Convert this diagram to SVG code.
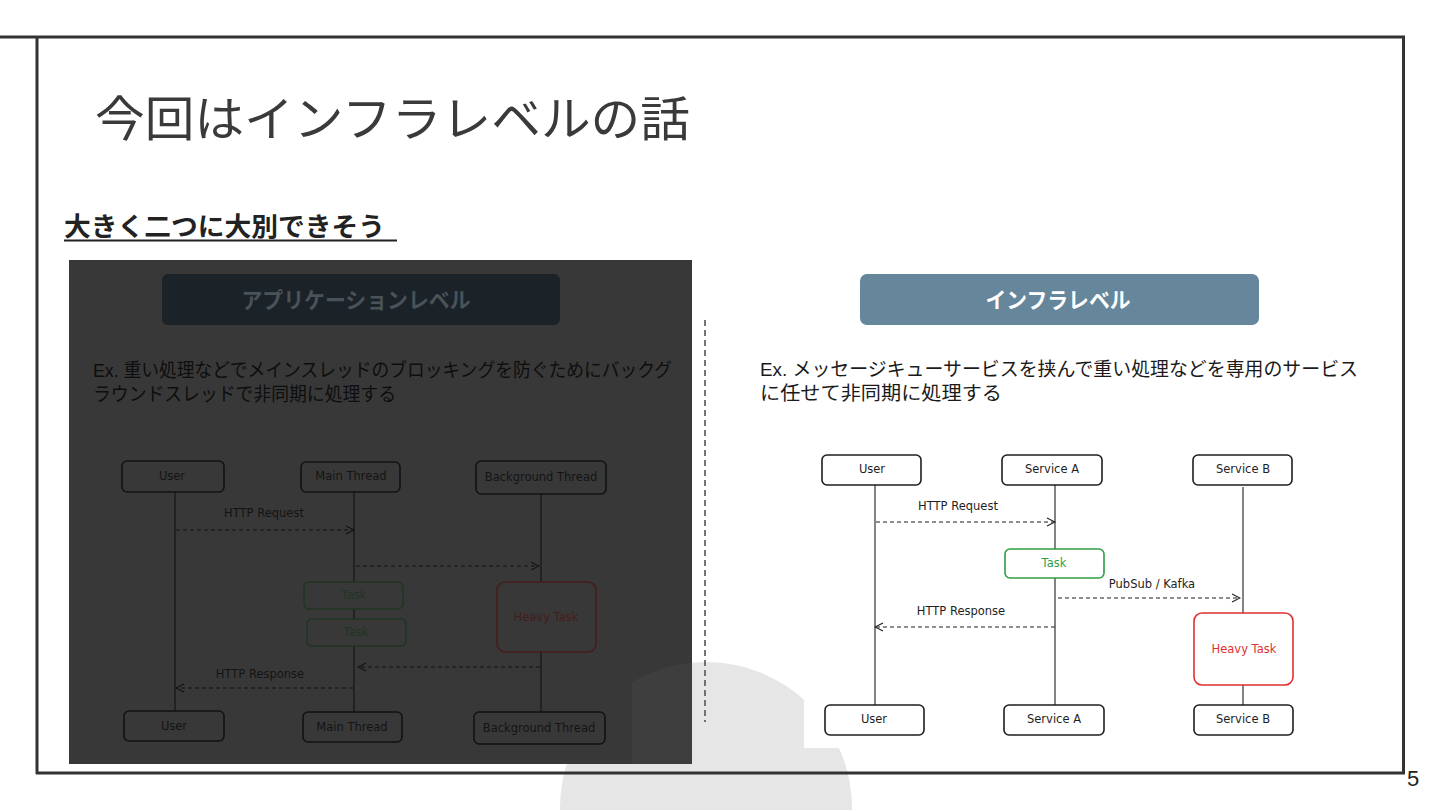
<svg xmlns="http://www.w3.org/2000/svg" width="1440" height="810" viewBox="0 0 1440 810">
<defs>
<style>
.jp{font-family:"Liberation Sans","Noto Sans CJK JP",sans-serif;}
.hand{font-family:"DejaVu Sans","Liberation Sans",sans-serif;font-size:11.5px;text-anchor:middle;}
.rbox{fill:#ffffff;stroke:#1e1e1e;stroke-width:1.6;}
.rline{stroke:#1e1e1e;stroke-width:1.1;fill:none;}
.rdash{stroke:#1e1e1e;stroke-width:1.1;fill:none;stroke-dasharray:4 3;}
.rtxt{fill:#1e1e1e;}
.dbox{fill:none;stroke:#121212;stroke-width:1.6;}
.dline{stroke:#121212;stroke-width:1.1;fill:none;}
.ddash{stroke:#121212;stroke-width:1.1;fill:none;stroke-dasharray:4 3;}
.dtxt{fill:#141414;}
</style>
<marker id="arrR" markerWidth="10" markerHeight="10" refX="9" refY="5" orient="auto" markerUnits="userSpaceOnUse">
<path d="M1,1 L9,5 L1,9" fill="none" stroke="#1e1e1e" stroke-width="1.1"/>
</marker>
<marker id="arrD" markerWidth="10" markerHeight="10" refX="9" refY="5" orient="auto" markerUnits="userSpaceOnUse">
<path d="M1,1 L9,5 L1,9" fill="none" stroke="#121212" stroke-width="1.1"/>
</marker>
<clipPath id="panelClip"><rect x="632" y="600" width="60" height="164"/></clipPath>
</defs>

<rect x="0" y="0" width="1440" height="810" fill="#ffffff"/>

<!-- background circle -->
<circle cx="706" cy="808" r="146" fill="#e6e6e6"/>

<!-- frame -->
<g id="frame" fill="none" stroke="#333333" stroke-width="3">
<line x1="0" y1="37" x2="1405" y2="37"/>
<line x1="37" y1="37" x2="37" y2="774"/>
<line x1="1403.5" y1="37" x2="1403.5" y2="774"/>
<line x1="36" y1="773" x2="1405" y2="773"/>
</g>

<g id="title">
<text class="jp" x="95" y="136" font-size="48" fill="#3a3a3a" textLength="595" lengthAdjust="spacingAndGlyphs">今回はインフラレベルの話</text>
</g>

<g id="subtitle">
<text class="jp" x="64" y="236" font-size="26" font-weight="bold" fill="#222222" textLength="321" lengthAdjust="spacingAndGlyphs">大きく二つに大別できそう</text>
<line x1="64" y1="240.5" x2="397" y2="240.5" stroke="#222222" stroke-width="2"/>
</g>

<!-- Left dimmed panel -->
<g id="app-panel">
<rect x="69" y="260" width="623" height="504" fill="#383838"/>
<circle cx="706" cy="808" r="146" fill="#3e3e3e" clip-path="url(#panelClip)"/>
<g id="app-header">
<rect x="162" y="274" width="398" height="51" rx="6" fill="#1b2228"/>
<text class="jp" x="356" y="308" font-size="22" font-weight="bold" fill="#4a525a" text-anchor="middle" textLength="229" lengthAdjust="spacingAndGlyphs">アプリケーションレベル</text>
</g>
<g id="app-desc" class="jp" font-size="19" fill="#0e0e0e">
<text x="93" y="377" textLength="579" lengthAdjust="spacingAndGlyphs">Ex. 重い処理などでメインスレッドのブロッキングを防ぐためにバックグ</text>
<text x="93" y="401" textLength="303" lengthAdjust="spacingAndGlyphs">ラウンドスレッドで非同期に処理する</text>
</g>

<g id="app-connectors">
<line class="dline" x1="175" y1="492" x2="175" y2="711"/>
<line class="dline" x1="354" y1="492" x2="354" y2="582"/>
<line class="dline" x1="354" y1="609" x2="354" y2="619"/>
<line class="dline" x1="354" y1="646" x2="354" y2="712"/>
<line class="dline" x1="541" y1="494" x2="541" y2="582"/>
<line class="dline" x1="541" y1="652" x2="541" y2="712"/>
<line class="ddash" x1="176" y1="530" x2="354" y2="530" marker-end="url(#arrD)"/>
<line class="ddash" x1="356" y1="566" x2="539" y2="566" marker-end="url(#arrD)"/>
<line class="ddash" x1="540" y1="667" x2="358" y2="667" marker-end="url(#arrD)"/>
<line class="ddash" x1="353" y1="688" x2="176" y2="688" marker-end="url(#arrD)"/>
<text class="hand dtxt" x="264" y="517">HTTP Request</text>
<text class="hand dtxt" x="260" y="678">HTTP Response</text>
</g>

<g id="app-user-top"><rect class="dbox" x="122" y="461" width="102" height="31" rx="5"/><text class="hand dtxt" x="172" y="480">User</text></g>
<g id="app-main-top"><rect class="dbox" x="301" y="462" width="99" height="30" rx="5"/><text class="hand dtxt" x="351" y="480">Main Thread</text></g>
<g id="app-bg-top"><rect class="dbox" x="476" y="461" width="130" height="33" rx="5"/><text class="hand dtxt" x="541" y="481">Background Thread</text></g>
<g id="app-task1"><rect x="304" y="582" width="99" height="27" rx="5" fill="#383838" stroke="#1f3623" stroke-width="1.6"/><text class="hand" x="354" y="599" fill="#1f3623">Task</text></g>
<g id="app-task2"><rect x="307" y="619" width="99" height="27" rx="5" fill="#383838" stroke="#1f3623" stroke-width="1.6"/><text class="hand" x="356" y="636" fill="#1f3623">Task</text></g>
<g id="app-heavy"><rect x="497" y="582" width="99" height="70" rx="8" fill="#383838" stroke="#461c1c" stroke-width="1.6"/><text class="hand" x="546" y="621" fill="#461c1c">Heavy Task</text></g>
<g id="app-user-bot"><rect class="dbox" x="124" y="711" width="100" height="30" rx="5"/><text class="hand dtxt" x="174" y="730">User</text></g>
<g id="app-main-bot"><rect class="dbox" x="303" y="712" width="99" height="30" rx="5"/><text class="hand dtxt" x="352" y="731">Main Thread</text></g>
<g id="app-bg-bot"><rect class="dbox" x="474" y="712" width="131" height="32" rx="5"/><text class="hand dtxt" x="539" y="732">Background Thread</text></g>
</g>

<!-- divider -->
<line id="divider" x1="705" y1="320" x2="705" y2="722" stroke="#555555" stroke-width="1.6" stroke-dasharray="6 4"/>

<!-- Right panel -->
<g id="infra-header">
<rect x="860" y="274" width="399" height="51" rx="7" fill="#66869c"/>
<text class="jp" x="1058" y="308" font-size="22" font-weight="bold" fill="#ffffff" text-anchor="middle" textLength="145" lengthAdjust="spacingAndGlyphs">インフラレベル</text>
</g>
<g id="infra-desc" class="jp" font-size="19" fill="#1a1a1a">
<text x="760" y="376" textLength="598" lengthAdjust="spacingAndGlyphs">Ex. メッセージキューサービスを挟んで重い処理などを専用のサービス</text>
<text x="760" y="400" textLength="242" lengthAdjust="spacingAndGlyphs">に任せて非同期に処理する</text>
</g>

<rect id="infra-image" x="804" y="443" width="526" height="305" fill="#ffffff"/>

<g id="infra-connectors">
<line class="rline" x1="875" y1="485" x2="875" y2="705"/>
<line class="rline" x1="1055" y1="485" x2="1055" y2="549"/>
<line class="rline" x1="1055" y1="578" x2="1055" y2="705"/>
<line class="rline" x1="1243" y1="487" x2="1243" y2="613"/>
<line class="rline" x1="1243" y1="685" x2="1243" y2="705"/>
<line class="rdash" x1="876" y1="522" x2="1055" y2="522" marker-end="url(#arrR)"/>
<line class="rdash" x1="1058" y1="598" x2="1240" y2="598" marker-end="url(#arrR)"/>
<line class="rdash" x1="1055" y1="627" x2="875" y2="627" marker-end="url(#arrR)"/>
<text class="hand rtxt" x="958" y="510">HTTP Request</text>
<text class="hand rtxt" x="1152" y="588">PubSub / Kafka</text>
<text class="hand rtxt" x="961" y="615">HTTP Response</text>
</g>

<g id="infra-user-top"><rect class="rbox" x="822" y="455" width="99" height="30" rx="5"/><text class="hand rtxt" x="872" y="473">User</text></g>
<g id="infra-svcA-top"><rect class="rbox" x="1002" y="455" width="100" height="30" rx="5"/><text class="hand rtxt" x="1052" y="473">Service A</text></g>
<g id="infra-svcB-top"><rect class="rbox" x="1193" y="455" width="99" height="30" rx="5"/><text class="hand rtxt" x="1243" y="473">Service B</text></g>
<g id="infra-task"><rect x="1005" y="549" width="99" height="29" rx="5" fill="#ffffff" stroke="#2f9e44" stroke-width="1.6"/><text class="hand" x="1054" y="567" fill="#2f9e44">Task</text></g>
<g id="infra-heavy"><rect x="1194" y="613" width="99" height="72" rx="8" fill="#ffffff" stroke="#e03131" stroke-width="1.6"/><text class="hand" x="1244" y="653" fill="#e03131">Heavy Task</text></g>
<g id="infra-user-bot"><rect class="rbox" x="825" y="705" width="99" height="30" rx="5"/><text class="hand rtxt" x="874" y="723">User</text></g>
<g id="infra-svcA-bot"><rect class="rbox" x="1004" y="705" width="100" height="30" rx="5"/><text class="hand rtxt" x="1054" y="723">Service A</text></g>
<g id="infra-svcB-bot"><rect class="rbox" x="1194" y="705" width="99" height="30" rx="5"/><text class="hand rtxt" x="1243" y="723">Service B</text></g>

<text id="page-number" x="1407" y="786" font-family="Liberation Sans, sans-serif" font-size="22" fill="#222222">5</text>
</svg>
